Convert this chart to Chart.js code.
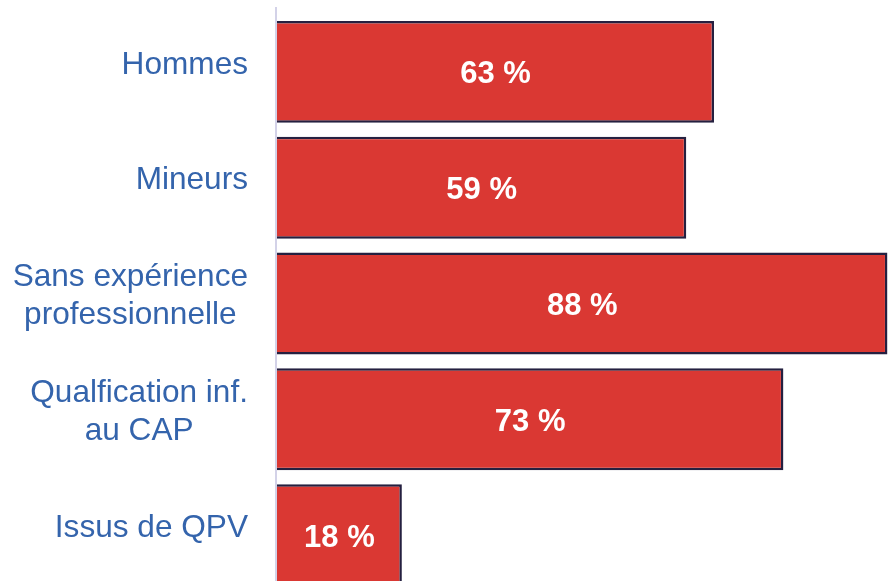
<!DOCTYPE html>
<html>
<head>
<meta charset="utf-8">
<script src="https://cdn.jsdelivr.net/npm/chart.js@4/dist/chart.umd.min.js"></script>
<style>
  html, body { margin: 0; padding: 0; background: #fff; overflow: hidden; }
  #wrap { width: 893px; height: 593px; position: relative; }
</style>
</head>
<body>
<div id="wrap"><canvas id="chart"></canvas></div>
<script>
const categories = [
  ["Hommes"],
  ["Mineurs"],
  ["Sans expérience", "professionnelle"],
  ["Qualfication inf.", "au CAP"],
  ["Issus de QPV"]
];
const shares = [63, 59, 88, 73, 18];
const valueLabels = ["63 %", "59 %", "88 %", "73 %", "18 %"];

const labelColor = "#3464AC";
const font = '"Liberation Sans", Arial, sans-serif';

// draws the category labels (centered lines, block right aligned), the axis line and the values
const drawLabels = {
  id: "drawLabels",
  afterDatasetsDraw(chart) {
    const ctx = chart.ctx;
    const y = chart.scales.y;
    const x = chart.scales.x;
    const area = chart.chartArea;
    const axisX = x.getPixelForValue(0);

    ctx.save();
    ctx.strokeStyle = "#D3D2E8";
    ctx.lineWidth = 2;
    ctx.beginPath();
    ctx.moveTo(axisX - 1, area.top - 7);
    ctx.lineTo(axisX - 1, area.bottom);
    ctx.stroke();

    ctx.font = "31.6px " + font;
    ctx.fillStyle = labelColor;
    ctx.textAlign = "center";
    ctx.textBaseline = "middle";
    const right = axisX - 29;
    const lineH = 38;
    categories.forEach((lines, i) => {
      const widest = Math.max(...lines.map(l => ctx.measureText(l).width));
      const cx = right - widest / 2;
      const cy = y.getPixelForValue(i) - 7;
      lines.forEach((l, j) => {
        ctx.fillText(l, cx, cy + (j - (lines.length - 1) / 2) * lineH);
      });
    });

    ctx.font = "bold 31px " + font;
    ctx.fillStyle = "#ffffff";
    const meta = chart.getDatasetMeta(0);
    meta.data.forEach((bar, i) => {
      const cx = (bar.x + bar.base) / 2;
      ctx.fillText(valueLabels[i], cx, bar.y + 3);
    });
    ctx.restore();
  }
};

new Chart(document.getElementById("chart"), {
  type: "bar",
  data: {
    labels: categories,
    datasets: [{
      data: shares,
      backgroundColor: "#DA3833",
      borderColor: "#252040",
      borderWidth: 2.5,
      borderSkipped: "start",
      barPercentage: 0.88,
      categoryPercentage: 1
    }]
  },
  options: {
    indexAxis: "y",
    responsive: true,
    maintainAspectRatio: false,
    animation: false,
    layout: { padding: { top: 14, right: 0, bottom: 0, left: 0 } },
    plugins: { legend: { display: false }, tooltip: { enabled: false } },
    scales: {
      x: { display: false, min: 0, max: 88.8 },
      y: {
        grid: { display: false },
        border: { display: false },
        ticks: { display: false },
        afterFit(scale) { scale.width = 277; }
      }
    }
  },
  plugins: [drawLabels]
});
</script>
</body>
</html>
